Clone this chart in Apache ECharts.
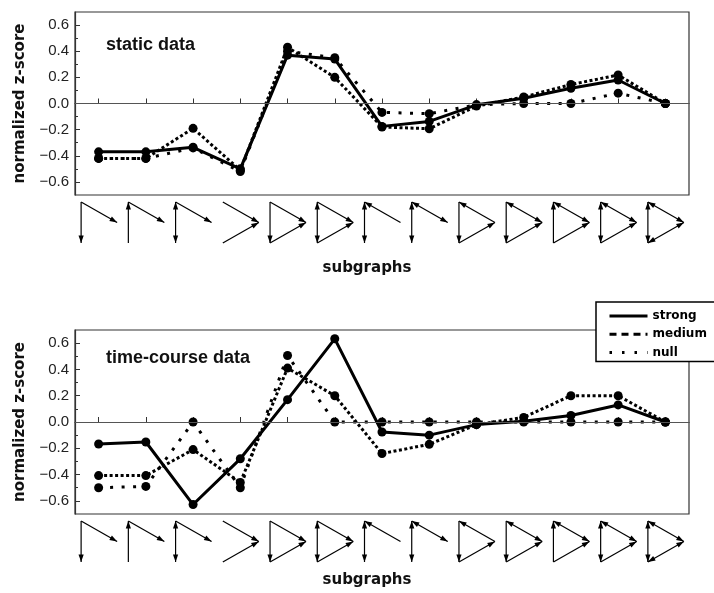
<!DOCTYPE html>
<html><head><meta charset="utf-8">
<script src="https://cdn.jsdelivr.net/npm/echarts@6/dist/echarts.min.js"></script>
<style>html,body{margin:0;padding:0;background:#fff}#c{width:714px;height:593px}</style>
</head><body><div id="c"></div>
<script>
// ---- data ----
const subgraphs = ['6','12','14','36','38','46','74','78','98','102','108','110','238'];
// edges of each 3-node subgraph: A = top-left node, B = bottom-left node, C = right node
const subgraphEdges = [
  [['A','B'],['A','C']],
  [['B','A'],['A','C']],
  [['A','B'],['B','A'],['A','C']],
  [['A','C'],['B','C']],
  [['A','B'],['A','C'],['B','C']],
  [['A','B'],['B','A'],['A','C'],['B','C']],
  [['A','B'],['B','A'],['C','A']],
  [['A','B'],['B','A'],['A','C'],['C','A']],
  [['A','B'],['B','C'],['C','A']],
  [['A','B'],['B','C'],['C','A'],['A','C']],
  [['B','A'],['A','C'],['C','A'],['B','C']],
  [['A','B'],['B','A'],['A','C'],['C','A'],['B','C']],
  [['A','B'],['B','A'],['A','C'],['C','A'],['B','C'],['C','B']]
];
const staticStrong = [-0.37,-0.37,-0.335,-0.50,0.37,0.34,-0.175,-0.137,-0.01,0.04,0.117,0.18,0.0];
const staticMedium = [-0.42,-0.42,-0.19,-0.51,0.43,0.20,-0.18,-0.193,-0.02,0.05,0.145,0.218,0.0];
const staticNull   = [-0.42,-0.42,-0.34,-0.52,0.40,0.35,-0.068,-0.078,-0.01,0.0,0.0,0.079,0.0];
const timeStrong = [-0.167,-0.152,-0.628,-0.28,0.17,0.633,-0.076,-0.10,-0.02,0.005,0.05,0.13,0.0];
const timeMedium = [-0.408,-0.408,-0.21,-0.46,0.41,0.20,-0.24,-0.17,-0.02,0.035,0.20,0.20,0.0];
const timeNull   = [-0.50,-0.49,0.0,-0.50,0.506,0.0,0.0,0.0,0.0,0.0,0.0,0.0,0.0];
const yTickValues = [-0.6,-0.4,-0.2,0.0,0.2,0.4,0.6];
const yMinorTickValues = [-0.5,-0.3,-0.1,0.1,0.3,0.5];
const panelTitles = ['static data','time-course data'];
const seriesNames = ['strong','medium','null'];

// ---- chart ----
const Y_MIN = -0.7, Y_MAX = 0.7;
const fmt = v => (v < 0 ? '\u2212' : '') + Math.abs(v).toFixed(1);
const nameFont = {fontFamily:'DejaVu Sans', fontWeight:'bold', fontSize:15, color:'#111'};

function xAxisCfg(gi){
  return {type:'category', gridIndex:gi, data:subgraphs, boundaryGap:true,
    axisLine:{show:true, lineStyle:{color:'#333', width:1.2}},
    axisTick:{show:true, inside:true, alignWithLabel:true, length:5, lineStyle:{color:'#333', width:1}},
    axisLabel:{show:false}, splitLine:{show:false},
    name:'subgraphs', nameLocation:'middle', nameGap: gi === 0 ? 66 : 59,
    nameTextStyle:Object.assign({padding:[0,30,0,0]}, nameFont)};
}
function yMajor(gi){
  return {type:'value', gridIndex:gi, min:Y_MIN, max:Y_MAX, position:'left',
    axisLine:{show:true, lineStyle:{color:'#333', width:1.2}},
    axisTick:{show:true, inside:true, length:5, customValues:yTickValues, lineStyle:{color:'#333', width:1}},
    axisLabel:{show:true, customValues:yTickValues, formatter:fmt, fontFamily:'Liberation Sans', fontSize:15, color:'#222', margin:6},
    splitLine:{show:false},
    name:'normalized z-score', nameLocation:'middle', nameRotate:90, nameGap:47, nameTextStyle:nameFont};
}
function yMinor(gi){
  return {type:'value', gridIndex:gi, min:Y_MIN, max:Y_MAX, position:'left',
    axisLine:{show:false},
    axisTick:{show:true, inside:true, length:3, customValues:yMinorTickValues, lineStyle:{color:'#333', width:1}},
    axisLabel:{show:false}, splitLine:{show:false}};
}
const dashTypes = {strong:'solid', medium:[3,2.5], null:[3,8.5]};
function lineSeries(name, data, gi){
  return {name, type:'line', xAxisIndex:gi, yAxisIndex:gi*2, data,
    symbol:'circle', symbolSize:9, showSymbol:true, silent:true,
    itemStyle:{color:'#000'},
    lineStyle:{color:'#000', width:3, type:dashTypes[name], cap:'butt'},
    z:3};
}
function zeroSeries(gi){
  return {name:'zero'+gi, type:'line', xAxisIndex:gi, yAxisIndex:gi*2, data:[], silent:true, z:1,
    markLine:{silent:true, symbol:'none', label:{show:false}, animation:false,
      lineStyle:{color:'#555', width:1, type:'solid'}, data:[{yAxis:0}]}};
}
function iconSeries(gi){
  return {name:'icons'+gi, type:'custom', xAxisIndex:gi, yAxisIndex:gi*2, clip:false, silent:true, z:2,
    data: subgraphs.map((s,i)=>[i, Y_MIN]),
    renderItem:(params, api)=>{
      const idx = params.dataIndex;
      const p = api.coord([api.value(0), api.value(1)]);
      const cx = p[0], top = p[1] + 7;
      const N = {A:[cx-17.5, top], B:[cx-17.5, top+41], C:[cx+18.5, top+20.5]};
      const edges = subgraphEdges[idx];
      const children = [];
      const seen = {};
      edges.forEach(e=>{
        const key = [e[0],e[1]].sort().join('');
        if(!seen[key]){
          seen[key]=1;
          const a=N[e[0]], b=N[e[1]];
          children.push({type:'line', shape:{x1:a[0],y1:a[1],x2:b[0],y2:b[1]}, style:{stroke:'#000', lineWidth:1.2}});
        }
        const s=N[e[0]], t=N[e[1]];
        const dx=t[0]-s[0], dy=t[1]-s[1], L=Math.hypot(dx,dy);
        const ux=dx/L, uy=dy/L, nx=-uy, ny=ux;
        const bx=t[0]-ux*7.5, by=t[1]-uy*7.5;
        children.push({type:'polygon', shape:{points:[[t[0],t[1]],[bx+nx*2.6,by+ny*2.6],[bx-nx*2.6,by-ny*2.6]]}, style:{fill:'#000'}});
      });
      return {type:'group', children};
    }};
}

const chart = echarts.init(document.getElementById('c'), null, {renderer:'canvas'});
const gridBase = {show:true, borderColor:'#333', borderWidth:1.2, backgroundColor:'transparent', containLabel:false};
chart.setOption({
  animation:false,
  backgroundColor:'#fff',
  title: panelTitles.map((t,i)=>({text:t, left:106, top: i===0 ? 36 : 349, padding:0,
    textStyle:{fontFamily:'Liberation Sans', fontWeight:'bold', fontSize:18, color:'#111'}})),
  grid:[Object.assign({left:75, top:12, width:614, height:183}, gridBase),
        Object.assign({left:75, top:330, width:614, height:184}, gridBase)],
  xAxis:[xAxisCfg(0), xAxisCfg(1)],
  yAxis:[yMajor(0), yMinor(0), yMajor(1), yMinor(1)],
  legend:{orient:'vertical', left:596, top:302, padding:[8,8,3,12], itemGap:6.3, itemWidth:38, itemHeight:12,
    backgroundColor:'#fff', borderColor:'#000', borderWidth:1.5, borderRadius:0, selectedMode:false,
    itemStyle:{opacity:0}, z:20,
    textStyle:{fontFamily:'DejaVu Sans', fontWeight:'bold', fontSize:12, color:'#000'},
    data:[{name:'strong', lineStyle:{type:'solid', width:3}},
          {name:'medium', lineStyle:{type:[7,5], width:3}},
          {name:'null', lineStyle:{type:[2.5,10], width:3}}]},
  series:[
    zeroSeries(0), iconSeries(0),
    lineSeries('null', staticNull, 0), lineSeries('medium', staticMedium, 0), lineSeries('strong', staticStrong, 0),
    zeroSeries(1), iconSeries(1),
    lineSeries('null', timeNull, 1), lineSeries('medium', timeMedium, 1), lineSeries('strong', timeStrong, 1)
  ]
});
</script></body></html>
